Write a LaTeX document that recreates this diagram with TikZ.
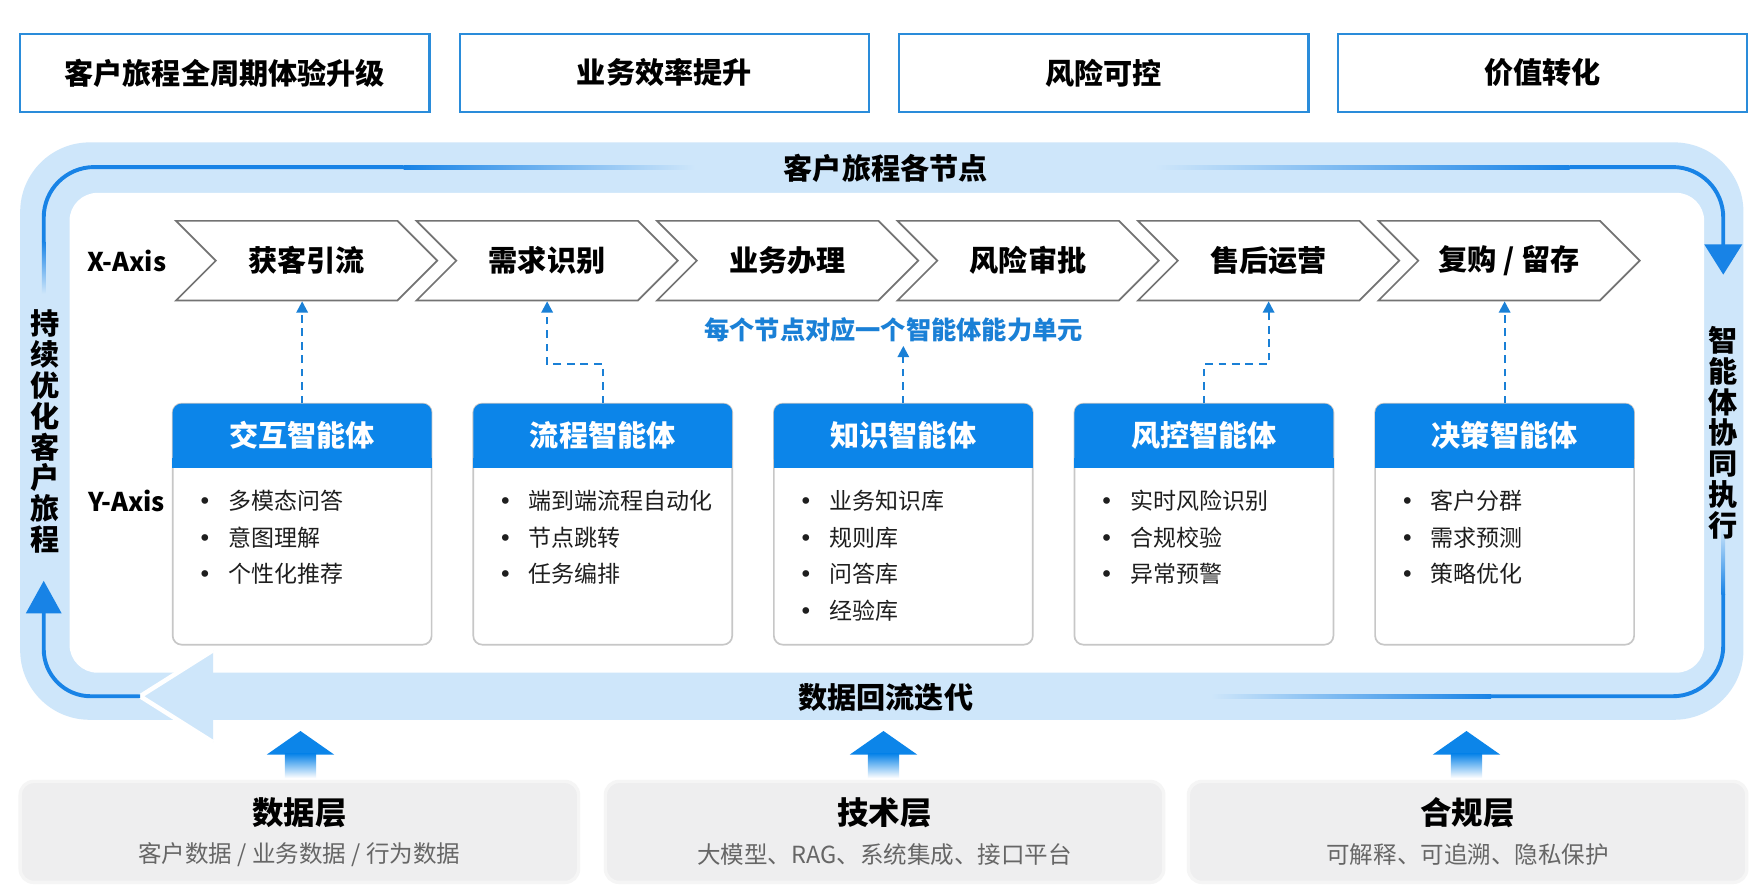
\documentclass[tikz,border=0pt]{standalone}
\usepackage{fontspec}
\setmainfont{Noto Sans CJK SC}
\newfontfamily\dotfont{DejaVu Sans}
\usepackage{tikz}
\usetikzlibrary{shapes.symbols,arrows.meta}

\definecolor{band}{RGB}{206,230,250}
\definecolor{flow}{RGB}{24,131,230}
\definecolor{head}{RGB}{12,133,233}
\definecolor{frame}{RGB}{42,140,218}
\definecolor{note}{RGB}{26,128,214}
\definecolor{layer}{RGB}{238,238,239}
\definecolor{ink}{RGB}{30,30,30}

\newcommand{\fs}[1]{\fontsize{#1}{#1}\selectfont}
\newcommand{\itm}[1]{\makebox[42pt][c]{\dotfont •}#1}

\tikzset{
	goal/.style={draw=frame,line width=2pt,fill=white,minimum width=365pt,minimum height=70pt,font=\fs{26}\bfseries},
	stage/.style={signal,signal from=west,signal to=east,signal pointer angle=90,draw=black!55,line width=1.5pt,fill=white,minimum width=233pt,minimum height=71pt,inner sep=0pt,font=\fs{26}\bfseries},
	card/.style={draw=black!22,line width=1.5pt,fill=white,rounded corners=8pt,minimum width=231pt,minimum height=215pt},
	cardhead/.style={fill=head,rounded corners=8pt,minimum width=231pt,minimum height=57pt,text=white,font=\fs{26}\bfseries},
	item/.style={anchor=west,text=ink,inner sep=0pt,font=\fs{20.5}},
	link/.style={draw=note,line width=2pt,dash pattern=on 7pt off 5pt,-{Triangle[length=10pt,width=10pt]}},
	flowline/.style={draw=flow,line width=3.5pt},
	side/.style={align=center,font=\fontsize{26}{27.5}\selectfont\bfseries},
	layerbox/.style={fill=layer,draw=black!4,line width=3pt,rounded corners=12pt,minimum width=498pt,minimum height=90pt},
}

\begin{document}
\begin{tikzpicture}[x=1pt,y=-1pt]
	\fill [white] (0,0) rectangle (1568,797);
	\useasboundingbox (0,0) rectangle (1568,797);
	\node [goal] (g1) at (200.5,65) {客户旅程全周期体验升级};
	\node [goal] (g2) at (592.5,65) {业务效率提升};
	\node [goal] (g3) at (984.5,65) {风险可控};
	\node [goal] (g4) at (1376,65) {价值转化};

	\fill [band,rounded corners=62pt] (18,127) rectangle (1555,642);
	\fill [white,rounded corners=25pt] (62,172) rectangle (1520,600);
	\fill [band] (125,621) -- (190,580) -- (190,662) -- cycle;
	\draw [white,line width=4pt] (190,580) -- (125,621) -- (190,662);

	\draw [flowline,rounded corners=45pt] (39,215) -- (39,149) -- (360,149);
	\shade [top color=flow,bottom color=band] (37.25,215) rectangle (40.75,262);
	\shade [left color=flow,right color=band] (360,147.25) rectangle (620,150.75);
	\shade [left color=band,right color=flow] (1030,147.25) rectangle (1400,150.75);
	\draw [flowline,rounded corners=45pt,-{Triangle[length=27pt,width=33pt]}] (1400,149) -- (1537,149) -- (1537,245);
	\shade [top color=band,bottom color=flow] (1535.25,470) rectangle (1538.75,530);
	\draw [flowline,rounded corners=45pt] (1537,530) -- (1537,621) -- (1330,621);
	\shade [left color=band,right color=flow] (1080,619.25) rectangle (1330,622.75);
	\draw [flowline,rounded corners=42pt,-{Triangle[length=29pt,width=31pt]}] (125,621) -- (39,621) -- (39,518);

	\node [font=\fs{26}\bfseries] (top) at (790,150) {客户旅程各节点};
	\node [font=\fs{26}\bfseries] (bottom) at (790,622) {数据回流迭代};
	\node [side] (left) at (40,385) {持\\续\\优\\化\\客\\户\\旅\\程};
	\node [side] (right) at (1537,386) {智\\能\\体\\协\\同\\执\\行};

	\node [font=\fs{23}\bfseries] (xa) at (113,233) {X-Axis};
	\node [font=\fs{23}\bfseries] (ya) at (113,447) {Y-Axis};

	\node [stage] (s1) at (273.5,232.5) {获客引流};
	\node [stage] (s2) at (488,232.5) {需求识别};
	\node [stage] (s3) at (702.5,232.5) {业务办理};
	\node [stage] (s4) at (917,232.5) {风险审批};
	\node [stage] (s5) at (1131.5,232.5) {售后运营};
	\node [stage] (s6) at (1346,232.5) {复购 / 留存};

	\node [font=\fs{22.5}\bfseries,text=note] (msg) at (797,294) {每个节点对应一个智能体能力单元};

	\node [card] (c1) at (269.5,467.5) {};
	\node [cardhead] (h1) at (269.5,388.5) {交互智能体};
	\fill [head] ([yshift=9pt]h1.south west) rectangle (h1.south east);
	\node [item] (c1a) at (161.5,447) {\itm{多模态问答}};
	\node [item] (c1b) at (161.5,480) {\itm{意图理解}};
	\node [item] (c1c) at (161.5,512) {\itm{个性化推荐}};

	\node [card] (c2) at (537.6,467.5) {};
	\node [cardhead] (h2) at (537.6,388.5) {流程智能体};
	\fill [head] ([yshift=9pt]h2.south west) rectangle (h2.south east);
	\node [item] (c2a) at (429.6,447) {\itm{端到端流程自动化}};
	\node [item] (c2b) at (429.6,480) {\itm{节点跳转}};
	\node [item] (c2c) at (429.6,512) {\itm{任务编排}};

	\node [card] (c3) at (805.7,467.5) {};
	\node [cardhead] (h3) at (805.7,388.5) {知识智能体};
	\fill [head] ([yshift=9pt]h3.south west) rectangle (h3.south east);
	\node [item] (c3a) at (697.7,447) {\itm{业务知识库}};
	\node [item] (c3b) at (697.7,480) {\itm{规则库}};
	\node [item] (c3c) at (697.7,512) {\itm{问答库}};
	\node [item] (c3d) at (697.7,545) {\itm{经验库}};

	\node [card] (c4) at (1073.8,467.5) {};
	\node [cardhead] (h4) at (1073.8,388.5) {风控智能体};
	\fill [head] ([yshift=9pt]h4.south west) rectangle (h4.south east);
	\node [item] (c4a) at (965.8,447) {\itm{实时风险识别}};
	\node [item] (c4b) at (965.8,480) {\itm{合规校验}};
	\node [item] (c4c) at (965.8,512) {\itm{异常预警}};

	\node [card] (c5) at (1342,467.5) {};
	\node [cardhead] (h5) at (1342,388.5) {决策智能体};
	\fill [head] ([yshift=9pt]h5.south west) rectangle (h5.south east);
	\node [item] (c5a) at (1234,447) {\itm{客户分群}};
	\node [item] (c5b) at (1234,480) {\itm{需求预测}};
	\node [item] (c5c) at (1234,512) {\itm{策略优化}};

	\draw [link] (h1.north) -- (h1.north |- s1.south);
	\draw [link] (h2.north) -- ++(0,-35) -| (s2.south);
	\draw [link] (h3.north) -- (h3.north |- msg.south);
	\draw [link] (h4.north) -- ++(0,-35) -| (s5.south);
	\draw [link] (h5.north) -- (h5.north |- s6.south);

	\fill [head] (238,673) -- (268,652) -- (298,673) -- cycle;
	\shade [top color=head,bottom color=white] (254,672.5) rectangle (282,694);
	\fill [head] (758,673) -- (788,652) -- (818,673) -- cycle;
	\shade [top color=head,bottom color=white] (774,672.5) rectangle (802,694);
	\fill [head] (1278,673) -- (1308,652) -- (1338,673) -- cycle;
	\shade [top color=head,bottom color=white] (1294,672.5) rectangle (1322,694);

	\node [layerbox] (d1) at (267,742) {};
	\node [font=\fs{28}\bfseries] (d1t) at (267,725) {数据层};
	\node [font=\fs{21},text=black!60] (d1s) at (267,762) {客户数据 / 业务数据 / 行为数据};
	\node [layerbox] (d2) at (789,742) {};
	\node [font=\fs{28}\bfseries] (d2t) at (789,725) {技术层};
	\node [font=\fs{21},text=black!60] (d2s) at (789,762) {大模型、RAG、系统集成、接口平台};
	\node [layerbox] (d3) at (1309,742) {};
	\node [font=\fs{28}\bfseries] (d3t) at (1309,725) {合规层};
	\node [font=\fs{21},text=black!60] (d3s) at (1309,762) {可解释、可追溯、隐私保护};
\end{tikzpicture}
\end{document}
